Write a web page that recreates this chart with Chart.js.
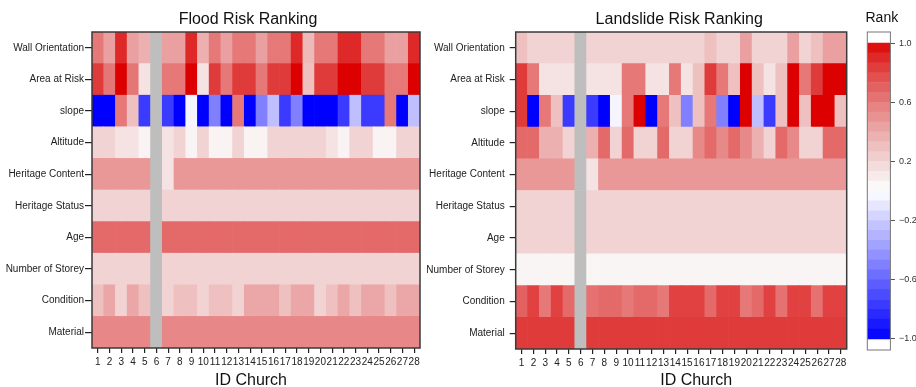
<!DOCTYPE html>
<html>
<head>
<meta charset="utf-8">
<title>Risk Ranking</title>
<script src="https://cdn.jsdelivr.net/npm/chart.js@4.4.1/dist/chart.umd.min.js"></script>
<style>
  html, body { margin: 0; padding: 0; background: #fff; }
  body { width: 916px; height: 387px; position: relative; overflow: hidden; }
  canvas { position: absolute; top: 0; }
  #floodChart { left: 0; }
  #landslideChart { left: 420px; }
  #rankScale { left: 840px; }
</style>
</head>
<body>
<canvas id="floodChart" width="430" height="387"></canvas>
<canvas id="landslideChart" width="436" height="387"></canvas>
<canvas id="rankScale" width="76" height="387"></canvas>
<script>
const churchIds = ['1', '2', '3', '4', '5', '6', '7', '8', '9', '10', '11', '12', '13', '14',
    '15', '16', '17', '18', '19', '20', '21', '22', '23', '24', '25', '26', '27', '28'];

// listed top to bottom, as the rows read on the panels
const factors = ['Wall Orientation', 'Area at Risk', 'slope', 'Altitude', 'Heritage Content',
    'Heritage Status', 'Age', 'Number of Storey', 'Condition', 'Material'];

// rank per factor (row) and church (column); church 6 has no data
const floodRanks = [
    [0.61, 0.44, 0.9, 0.44, 0.37, null, 0.44, 0.44, 0.9, 0.37, 0.61, 0.44, 0.61, 0.61, 0.44, 0.61, 0.61, 0.9, 0.33, 0.61, 0.61, 0.9, 0.9, 0.61, 0.61, 0.44, 0.44, 0.9],
    [0.84, 0.62, 1, 0.62, 0.14, null, 0.61, 0.61, 1, 0.14, 0.84, 0.61, 0.84, 0.84, 0.61, 0.84, 0.84, 1, 0.3, 0.84, 0.84, 1, 1, 0.84, 0.84, 0.61, 0.61, 1],
    [-1, -1, 0.61, 0.3, -0.77, null, -0.77, -1, -0.04, -1, -0.5, -1, 0.61, -1, -0.5, -0.25, -0.77, -0.5, -1, -1, -1, -0.77, -0.25, -0.77, -0.77, 0.61, -1, -0.25],
    [0.21, 0.21, 0.14, 0.14, 0.06, null, 0.14, 0.21, 0.06, 0.21, 0.06, 0.06, 0.21, 0.06, 0.06, 0.21, 0.21, 0.21, 0.21, 0.21, 0.14, 0.06, 0.21, 0.21, 0.06, 0.06, 0.21, 0.21],
    [0.48, 0.48, 0.48, 0.48, 0.48, null, 0.14, 0.48, 0.48, 0.48, 0.48, 0.48, 0.48, 0.48, 0.48, 0.48, 0.48, 0.48, 0.48, 0.48, 0.48, 0.48, 0.48, 0.48, 0.48, 0.48, 0.48, 0.48],
    [0.21, 0.21, 0.21, 0.21, 0.21, null, 0.21, 0.21, 0.21, 0.21, 0.21, 0.21, 0.21, 0.21, 0.21, 0.21, 0.21, 0.21, 0.21, 0.21, 0.21, 0.21, 0.21, 0.21, 0.21, 0.21, 0.21, 0.21],
    [0.67, 0.67, 0.67, 0.67, 0.67, null, 0.67, 0.67, 0.67, 0.67, 0.67, 0.67, 0.67, 0.67, 0.67, 0.67, 0.67, 0.67, 0.67, 0.67, 0.67, 0.67, 0.67, 0.67, 0.67, 0.67, 0.67, 0.67],
    [0.21, 0.21, 0.21, 0.21, 0.21, null, 0.21, 0.21, 0.21, 0.21, 0.21, 0.21, 0.21, 0.21, 0.21, 0.21, 0.21, 0.21, 0.21, 0.21, 0.21, 0.21, 0.21, 0.21, 0.21, 0.21, 0.21, 0.21],
    [0.3, 0.41, 0.21, 0.41, 0.3, null, 0.21, 0.3, 0.3, 0.21, 0.3, 0.3, 0.21, 0.41, 0.41, 0.41, 0.3, 0.41, 0.41, 0.21, 0.3, 0.41, 0.3, 0.41, 0.41, 0.3, 0.41, 0.41],
    [0.55, 0.55, 0.55, 0.55, 0.55, null, 0.55, 0.55, 0.55, 0.55, 0.55, 0.55, 0.55, 0.55, 0.55, 0.55, 0.55, 0.55, 0.55, 0.55, 0.55, 0.55, 0.55, 0.55, 0.55, 0.55, 0.55, 0.55]
];

const landslideRanks = [
    [0.3, 0.21, 0.21, 0.21, 0.21, null, 0.21, 0.21, 0.21, 0.21, 0.21, 0.21, 0.21, 0.21, 0.21, 0.21, 0.3, 0.21, 0.21, 0.44, 0.21, 0.21, 0.21, 0.44, 0.21, 0.3, 0.44, 0.44],
    [0.84, 0.61, 0.14, 0.14, 0.14, null, 0.14, 0.14, 0.14, 0.61, 0.61, 0.14, 0.14, 0.61, 0.14, 0.3, 0.84, 0.61, 0.3, 1, 0.3, 0.14, 0.3, 1, 0.61, 0.84, 1, 1],
    [0.84, -1, 0.61, 0.3, -0.77, null, -0.77, -1, -0.04, 0.61, 1, -1, 0.61, 0.3, -0.5, 0.3, 0.61, -0.5, -1, 1, -0.25, -0.77, 0.3, 1, 0.3, 1, 1, 0.3],
    [0.67, 0.67, 0.37, 0.37, 0.21, null, 0.37, 0.67, 0.21, 0.67, 0.21, 0.21, 0.67, 0.21, 0.21, 0.54, 0.67, 0.54, 0.67, 0.54, 0.37, 0.21, 0.67, 0.54, 0.21, 0.21, 0.67, 0.67],
    [0.48, 0.48, 0.48, 0.48, 0.48, null, 0.14, 0.48, 0.48, 0.48, 0.48, 0.48, 0.48, 0.48, 0.48, 0.48, 0.48, 0.48, 0.48, 0.48, 0.48, 0.48, 0.48, 0.48, 0.48, 0.48, 0.48, 0.48],
    [0.21, 0.21, 0.21, 0.21, 0.21, null, 0.21, 0.21, 0.21, 0.21, 0.21, 0.21, 0.21, 0.21, 0.21, 0.21, 0.21, 0.21, 0.21, 0.21, 0.21, 0.21, 0.21, 0.21, 0.21, 0.21, 0.21, 0.21],
    [0.21, 0.21, 0.21, 0.21, 0.21, null, 0.21, 0.21, 0.21, 0.21, 0.21, 0.21, 0.21, 0.21, 0.21, 0.21, 0.21, 0.21, 0.21, 0.21, 0.21, 0.21, 0.21, 0.21, 0.21, 0.21, 0.21, 0.21],
    [0.05, 0.05, 0.05, 0.05, 0.05, null, 0.05, 0.05, 0.05, 0.05, 0.05, 0.05, 0.05, 0.05, 0.05, 0.05, 0.05, 0.05, 0.05, 0.05, 0.05, 0.05, 0.05, 0.05, 0.05, 0.05, 0.05, 0.05],
    [0.7, 0.82, 0.61, 0.82, 0.67, null, 0.64, 0.67, 0.67, 0.61, 0.67, 0.67, 0.61, 0.82, 0.82, 0.82, 0.67, 0.82, 0.82, 0.61, 0.67, 0.82, 0.64, 0.82, 0.82, 0.64, 0.82, 0.82],
    [0.84, 0.84, 0.84, 0.84, 0.84, null, 0.84, 0.84, 0.84, 0.84, 0.84, 0.84, 0.84, 0.84, 0.84, 0.84, 0.84, 0.84, 0.84, 0.84, 0.84, 0.84, 0.84, 0.84, 0.84, 0.84, 0.84, 0.84]
];

const rankTicks = [1.0, 0.6, 0.2, -0.2, -0.6, -1.0];

const FONT = '"Liberation Sans", Arial, Helvetica, sans-serif';
const MISSING_COLOR = '#bebebe';
const SCALE_BANDS = 30;

Chart.defaults.font.family = FONT;
Chart.defaults.color = '#222';

// white -> red for positive ranks, white -> blue for negative ones
function rankColor(v) {
    if (v === null || v === undefined) return MISSING_COLOR;
    if (v >= 0) {
        const r = Math.round(255 - 34 * Math.pow(v, 0.6));
        const g = Math.round(255 * Math.pow(1 - v, 0.8));
        return `rgb(${r},${g},${g})`;
    }
    const c = Math.round(255 * (1 + v));
    return `rgb(${c},${c},255)`;
}

const framePlugin = {
    id: 'frame',
    afterDatasetsDraw(chart, args, opts) {
        const { ctx, chartArea: a } = chart;
        ctx.save();
        ctx.strokeStyle = opts.color || '#333';
        ctx.lineWidth = opts.width || 1;
        ctx.strokeRect(a.left, a.top, a.right - a.left, a.bottom - a.top);
        ctx.restore();
    }
};

// titles placed around the centre of the plot area
const captionPlugin = {
    id: 'captions',
    afterDraw(chart, args, opts) {
        const { ctx, chartArea } = chart;
        const mid = (chartArea.left + chartArea.right) / 2;
        ctx.save();
        ctx.fillStyle = '#111';
        ctx.textAlign = 'center';
        ctx.textBaseline = 'alphabetic';
        (opts.items || []).forEach(item => {
            ctx.font = `${item.size}px ${FONT}`;
            ctx.fillText(item.text, mid + (item.dx || 0), item.y);
        });
        ctx.restore();
    }
};

function buildHeatmap(canvasId, ranks, cfg) {
    // stacked bars are drawn bottom-up, so the last factor goes first
    const rows = factors.map((name, i) => ({ name, values: ranks[i] })).reverse();
    return new Chart(document.getElementById(canvasId), {
        type: 'bar',
        data: {
            labels: churchIds,
            datasets: rows.map(row => ({
                label: row.name,
                data: churchIds.map(() => 1),
                backgroundColor: row.values.map(rankColor),
                borderWidth: 0,
                barPercentage: 1,
                categoryPercentage: 1
            }))
        },
        options: {
            responsive: false,
            animation: false,
            events: [],
            layout: { padding: { top: 32, right: cfg.padRight, bottom: 0, left: 0 } },
            plugins: {
                legend: { display: false },
                tooltip: { enabled: false },
                frame: { color: '#3a3a3a', width: 1.5 },
                captions: {
                    items: [
                        { text: cfg.title, size: 16, y: 24, dx: cfg.titleDx },
                        { text: 'ID Church', size: 16, y: 385, dx: cfg.axisTitleDx }
                    ]
                }
            },
            scales: {
                x: {
                    stacked: true,
                    border: { display: false },
                    grid: { offset: false, drawOnChartArea: false, tickLength: 5, color: '#222', lineWidth: 1.2 },
                    ticks: {
                        autoSkip: false, maxRotation: 0, minRotation: 0, padding: 3,
                        color: '#222', font: { size: 10 }
                    },
                    afterFit(scale) { scale.height = cfg.xAxisHeight; }
                },
                y: {
                    stacked: true,
                    min: 0,
                    max: factors.length,
                    border: { display: false },
                    grid: { drawOnChartArea: false, tickLength: cfg.yTickLength, color: '#222', lineWidth: 1.2 },
                    ticks: {
                        autoSkip: false, padding: cfg.yTickPadding, color: '#222', font: { size: 10 },
                        callback: (value) => factors[factors.length - 1 - Math.floor(value)]
                    },
                    afterBuildTicks(scale) {
                        scale.ticks = factors.map((_, i) => ({ value: i + 0.5 }));
                    },
                    afterFit(scale) { scale.width = cfg.yAxisWidth; }
                }
            }
        },
        plugins: [framePlugin, captionPlugin]
    });
}

buildHeatmap('floodChart', floodRanks, {
    title: 'Flood Risk Ranking', titleDx: -8, axisTitleDx: -5,
    padRight: 10, yAxisWidth: 92, xAxisHeight: 39, yTickLength: 7, yTickPadding: 1
});

buildHeatmap('landslideChart', landslideRanks, {
    title: 'Landslide Risk Ranking', titleDx: -2, axisTitleDx: 15,
    padRight: 9.3, yAxisWidth: 95.7, xAxisHeight: 38, yTickLength: 6, yTickPadding: 5
});

// colour key: one floating bar per band between -1 and 1
const scaleBands = [];
for (let i = 0; i < SCALE_BANDS; i++) {
    const lo = -1 + 2 * i / SCALE_BANDS;
    scaleBands.push([lo, lo + 2 / SCALE_BANDS]);
}

new Chart(document.getElementById('rankScale'), {
    type: 'bar',
    data: {
        labels: ['Rank'],
        datasets: scaleBands.map(band => ({
            data: [band],
            backgroundColor: rankColor((band[0] + band[1]) / 2),
            borderWidth: 0,
            grouped: false,
            barPercentage: 1,
            categoryPercentage: 1
        }))
    },
    options: {
        responsive: false,
        animation: false,
        events: [],
        layout: { padding: { top: 32, right: 0, bottom: 37, left: 27.3 } },
        plugins: {
            legend: { display: false },
            tooltip: { enabled: false },
            frame: { color: '#777', width: 1 },
            captions: { items: [{ text: 'Rank', size: 14, y: 22, dx: 3 }] }
        },
        scales: {
            x: { display: false },
            y: {
                position: 'right',
                min: -1.075,
                max: 1.075,
                border: { display: false },
                grid: { drawOnChartArea: false, tickLength: 4.5, color: '#555', lineWidth: 1 },
                ticks: {
                    padding: 4, color: '#333', font: { size: 9 },
                    callback: (value) => (value < 0 ? '\u2212' : '') + Math.abs(value).toFixed(1)
                },
                afterBuildTicks(scale) {
                    scale.ticks = rankTicks.map(v => ({ value: v }));
                },
                afterFit(scale) { scale.width = 25.6; }
            }
        }
    },
    plugins: [framePlugin, captionPlugin]
});
</script>
</body>
</html>
